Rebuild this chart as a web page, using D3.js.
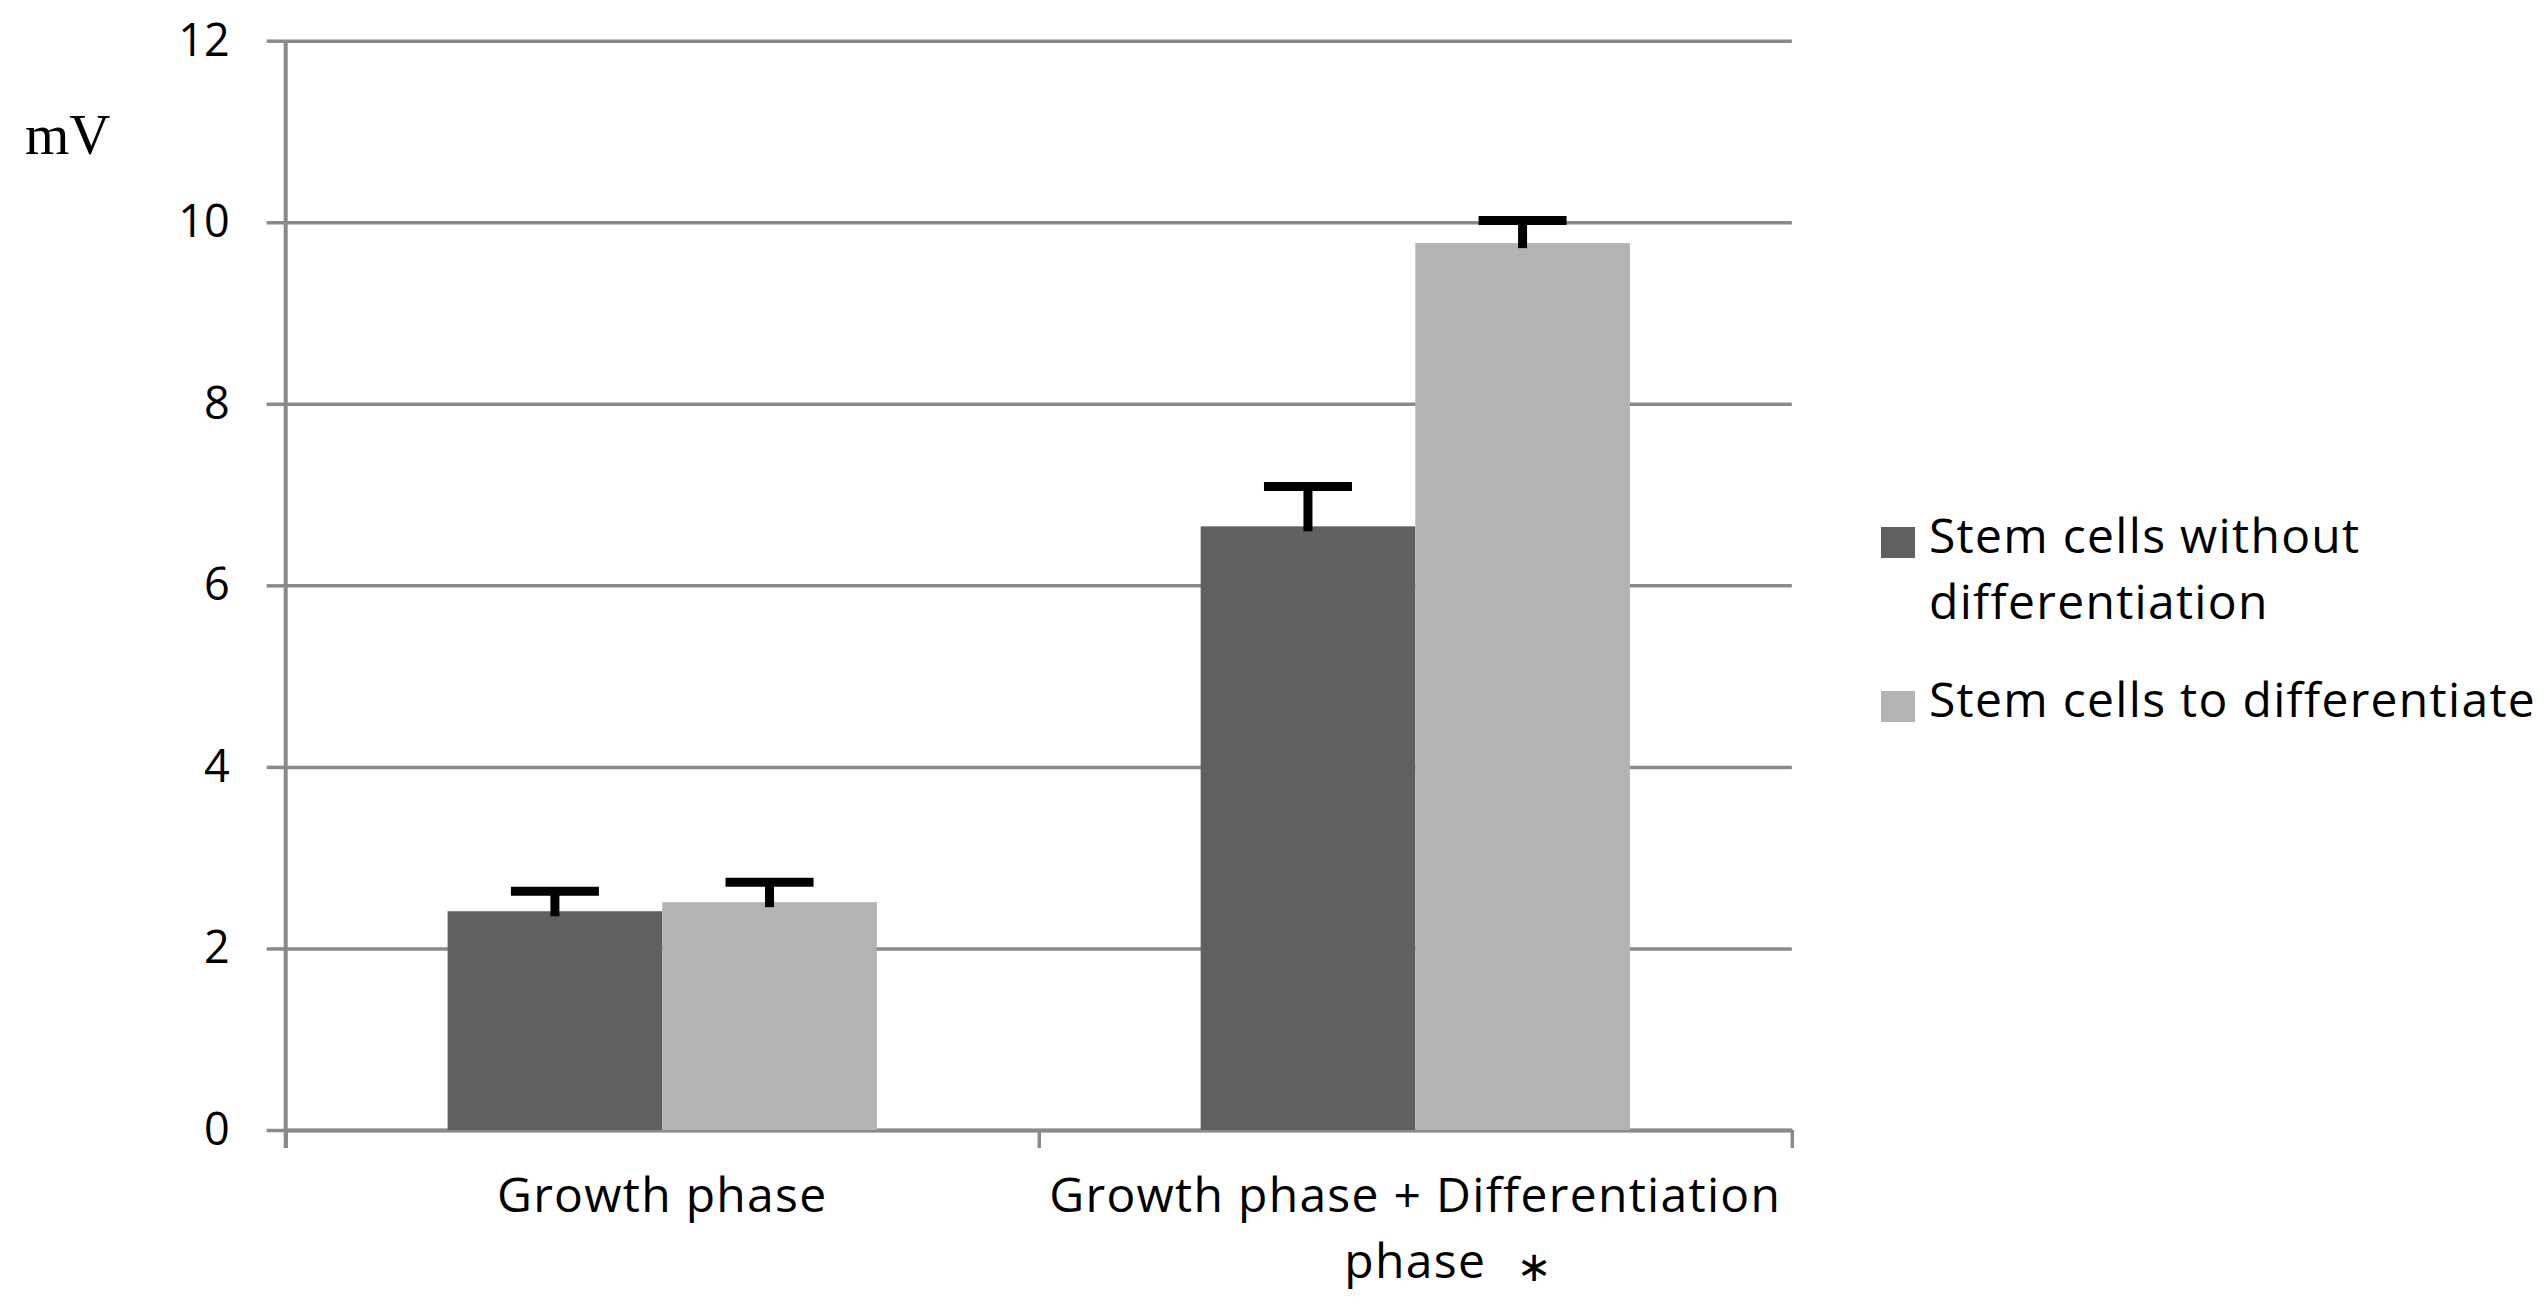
<!DOCTYPE html>
<html>
<head>
<meta charset="utf-8">
<script src="https://cdn.jsdelivr.net/npm/d3@7"></script>
<style>
  body { margin: 0; background: #fff; }
  svg { display: block; }
</style>
</head>
<body>
<script>
// data
var categories = ['Growth phase', 'Growth phase + Differentiation phase'];
var categoryLines = [['Growth phase'], ['Growth phase + Differentiation', 'phase']];
var categoryMarks = ['', '\u2217'];
var seriesNames = ['Stem cells without differentiation', 'Stem cells to differentiate'];
var seriesLines = [['Stem cells without', 'differentiation'], ['Stem cells to differentiate']];
var withoutDiff = [2.41, 6.65];
var withoutDiffErr = [0.22, 0.44];
var toDiff = [2.51, 9.77];
var toDiffErr = [0.22, 0.25];
var yTicks = [0, 2, 4, 6, 8, 10, 12];
var colors = ['#606060', '#b3b3b3'];

var width = 2545;
var height = 1305;
var plot = { left: 285.7, right: 1791.8, top: 40.7, bottom: 1130 };
var labelFont = '"Open Sans", sans-serif';

var svg = d3.select('body')
  .append('svg')
  .attr('width', width)
  .attr('height', height);

var x = d3.scaleBand()
  .domain(categories)
  .range([plot.left, plot.right])
  .paddingInner(0.43)
  .paddingOuter(0.215);

var xSub = d3.scaleBand()
  .domain(d3.range(seriesNames.length))
  .range([0, x.bandwidth()]);

var y = d3.scaleLinear()
  .domain([0, 12])
  .range([plot.bottom, plot.top]);

// gridlines
var grid = svg.append('g')
  .attr('transform', 'translate(' + plot.left + ',0)')
  .call(d3.axisLeft(y).tickValues(yTicks).tickSize(-(plot.right - plot.left)).tickFormat(''));
grid.select('.domain').remove();
grid.selectAll('line').attr('stroke', '#8a8a8a').attr('stroke-width', 3.5);

// y axis
var yAxis = svg.append('g')
  .attr('transform', 'translate(' + plot.left + ',0)')
  .call(d3.axisLeft(y).tickValues(yTicks).tickSize(19).tickPadding(37));
yAxis.select('.domain').remove();
yAxis.selectAll('line').attr('stroke', '#8a8a8a').attr('stroke-width', 3.5);
yAxis.selectAll('text')
  .attr('fill', '#000')
  .style('font-family', labelFont)
  .style('font-size', '45px');

svg.append('line')
  .attr('x1', plot.left).attr('x2', plot.left)
  .attr('y1', plot.top).attr('y2', plot.bottom + 18)
  .attr('stroke', '#8a8a8a')
  .attr('stroke-width', 4);

// x axis with ticks between categories
var xEdges = d3.scaleLinear().domain([0, categories.length]).range([plot.left, plot.right]);
var xAxis = svg.append('g')
  .attr('transform', 'translate(0,' + plot.bottom + ')')
  .call(d3.axisBottom(xEdges).tickValues(d3.range(categories.length + 1)).tickSize(18).tickFormat('').tickSizeOuter(0));
xAxis.select('.domain').attr('stroke', '#8a8a8a').attr('stroke-width', 4);
xAxis.selectAll('line').attr('stroke', '#8a8a8a').attr('stroke-width', 3.5);

// bars
var series = [
  { name: seriesNames[0], values: withoutDiff, errors: withoutDiffErr },
  { name: seriesNames[1], values: toDiff, errors: toDiffErr }
];

var groups = svg.selectAll('g.series')
  .data(series)
  .enter()
  .append('g')
  .attr('class', 'series');

groups.each(function(s, si) {
  var g = d3.select(this);
  var rows = categories.map(function(c, ci) {
    return { cat: c, v: s.values[ci], e: s.errors[ci] };
  });
  var cx = function(d) { return x(d.cat) + xSub(si) + xSub.bandwidth() / 2; };

  g.selectAll('rect')
    .data(rows)
    .enter()
    .append('rect')
    .attr('x', function(d) { return x(d.cat) + xSub(si); })
    .attr('y', function(d) { return y(d.v); })
    .attr('width', xSub.bandwidth())
    .attr('height', function(d) { return y(0) - y(d.v); })
    .attr('fill', colors[si]);

  // error bars (plus side only)
  g.selectAll('line.err')
    .data(rows)
    .enter()
    .append('line')
    .attr('class', 'err')
    .attr('x1', cx)
    .attr('x2', cx)
    .attr('y1', function(d) { return y(d.v) + 5; })
    .attr('y2', function(d) { return y(d.v + d.e); })
    .attr('stroke', '#000')
    .attr('stroke-width', 9);

  g.selectAll('line.cap')
    .data(rows)
    .enter()
    .append('line')
    .attr('class', 'cap')
    .attr('x1', function(d) { return cx(d) - 44; })
    .attr('x2', function(d) { return cx(d) + 44; })
    .attr('y1', function(d) { return y(d.v + d.e); })
    .attr('y2', function(d) { return y(d.v + d.e); })
    .attr('stroke', '#000')
    .attr('stroke-width', 9);
});

// category labels
var catLabels = svg.selectAll('text.cat')
  .data(categories)
  .enter()
  .append('text')
  .attr('class', 'cat')
  .attr('x', function(d) { return x(d) + x.bandwidth() / 2; })
  .attr('y', 1212)
  .attr('text-anchor', 'middle')
  .style('font-family', labelFont)
  .style('font-size', '48px')
  .style('letter-spacing', '1.3px')
  .attr('fill', '#000');

catLabels.each(function(d, i) {
  var t = d3.select(this);
  categoryLines[i].forEach(function(line, li) {
    t.append('tspan')
      .attr('x', x(d) + x.bandwidth() / 2)
      .attr('dy', li === 0 ? 0 : 66)
      .text(line);
  });
});

// significance mark after the last label line
catLabels.each(function(d, i) {
  if (!categoryMarks[i]) return;
  var spans = d3.select(this).selectAll('tspan').nodes();
  var last = spans[spans.length - 1];
  var w = last.getComputedTextLength();
  svg.append('text')
    .attr('x', x(d) + x.bandwidth() / 2 + w / 2 + 48)
    .attr('y', 1212 + 66 * (spans.length - 1) + 3)
    .attr('text-anchor', 'middle')
    .style('font-family', '"DejaVu Sans", sans-serif')
    .style('font-size', '42px')
    .attr('fill', '#000')
    .text(categoryMarks[i]);
});

// y axis unit
svg.append('text')
  .attr('x', 25)
  .attr('y', 154)
  .style('font-family', '"Liberation Serif", "Times New Roman", serif')
  .style('font-size', '57px')
  .attr('fill', '#000')
  .text('mV');

// legend
var legendTops = [527, 691];
var legend = svg.selectAll('g.legend')
  .data(seriesNames)
  .enter()
  .append('g')
  .attr('class', 'legend');

legend.append('rect')
  .attr('x', 1881)
  .attr('y', function(d, i) { return legendTops[i]; })
  .attr('width', 34)
  .attr('height', 31)
  .attr('fill', function(d, i) { return colors[i]; });

legend.append('text')
  .attr('x', 1929)
  .attr('y', function(d, i) { return legendTops[i] + 26; })
  .style('font-family', labelFont)
  .style('font-size', '48px')
  .style('letter-spacing', '1.3px')
  .attr('fill', '#000')
  .each(function(d, i) {
    var t = d3.select(this);
    seriesLines[i].forEach(function(line, li) {
      t.append('tspan')
        .attr('x', 1929)
        .attr('dy', li === 0 ? 0 : 66)
        .text(line);
    });
  });
</script>
</body>
</html>
